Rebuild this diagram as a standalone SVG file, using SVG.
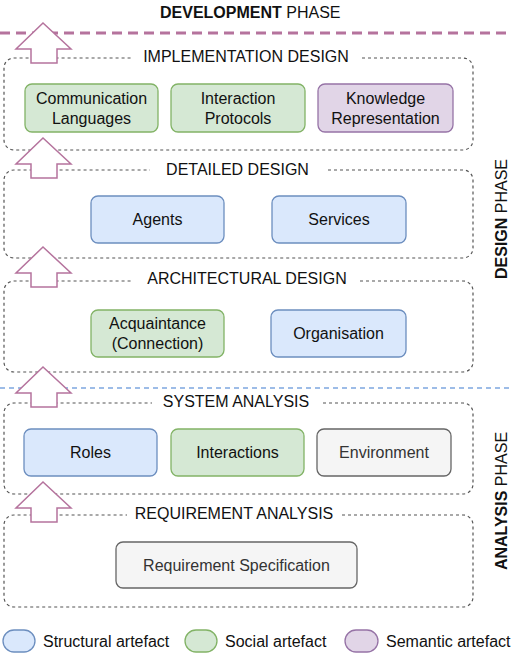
<svg xmlns="http://www.w3.org/2000/svg" width="519" height="656" viewBox="0 0 519 656">
<style>
text{font-family:"Liberation Sans",Arial,sans-serif;font-size:16px;fill:#111;}
.c{text-anchor:middle;}
.cont{fill:none;stroke:#555;stroke-width:1.2;stroke-dasharray:3 3;}
.blue{fill:#dae8fc;stroke:#6c8ebf;stroke-width:1.3;}
.green{fill:#d5e8d4;stroke:#82b366;stroke-width:1.3;}
.purple{fill:#e1d5e7;stroke:#9673a6;stroke-width:1.3;}
.gray{fill:#f5f5f5;stroke:#666;stroke-width:1.3;}
.gt{fill:#333;}
.arrow{fill:#fff;stroke:#b5739d;stroke-width:1.5;}
b,.b{font-weight:bold;}
</style>
<defs>
<path id="up" d="M43,0 L71,26 L57,26 L57,40 L31,40 L31,26 L16,26 Z"/>
</defs>

<g id="phase-lines">
<line x1="0" y1="33" x2="510" y2="33" stroke="#b5739d" stroke-width="3" stroke-dasharray="10 6"/>
<line x1="0" y1="388" x2="510" y2="388" stroke="#7ea6e0" stroke-width="1.5" stroke-dasharray="5 4"/>
</g>

<g id="phase-labels">
<text x="160" y="18"><tspan class="b">DEVELOPMENT</tspan> PHASE</text>
<text class="c" transform="translate(507,219) rotate(-90)"><tspan class="b">DESIGN</tspan> PHASE</text>
<text class="c" transform="translate(507,501) rotate(-90)"><tspan class="b">ANALYSIS</tspan> PHASE</text>
</g>

<g id="implementation-design">
<path class="cont" d="M362,58 H463 A10,10 0 0 1 473,68 V140 A10,10 0 0 1 463,150 H14 A10,10 0 0 1 4,140 V68 A10,10 0 0 1 14,58 H133"/>
<text class="c" x="246" y="62">IMPLEMENTATION DESIGN</text>
</g>
<g id="communication-languages">
<rect class="green" x="25" y="84" width="133" height="48" rx="7"/>
<text class="c" x="91.5" y="103.5">Communication</text>
<text class="c" x="91.5" y="123.5">Languages</text>
</g>
<g id="interaction-protocols">
<rect class="green" x="171" y="84" width="134" height="48" rx="7"/>
<text class="c" x="238" y="103.5">Interaction</text>
<text class="c" x="238" y="123.5">Protocols</text>
</g>
<g id="knowledge-representation">
<rect class="purple" x="318" y="84" width="135" height="48" rx="7"/>
<text class="c" x="385.5" y="103.5">Knowledge</text>
<text class="c" x="385.5" y="123.5">Representation</text>
</g>

<g id="detailed-design">
<path class="cont" d="M328,170 H463 A10,10 0 0 1 473,180 V248 A10,10 0 0 1 463,258 H14 A10,10 0 0 1 4,248 V180 A10,10 0 0 1 14,170 H150"/>
<text class="c" x="237.5" y="175">DETAILED DESIGN</text>
</g>
<g id="agents">
<rect class="blue" x="91" y="196" width="133" height="47" rx="7"/>
<text class="c" x="157.5" y="225">Agents</text>
</g>
<g id="services">
<rect class="blue" x="272" y="196" width="134" height="47" rx="7"/>
<text class="c" x="339" y="225">Services</text>
</g>

<g id="architectural-design">
<path class="cont" d="M360,281 H463 A10,10 0 0 1 473,291 V362 A10,10 0 0 1 463,372 H14 A10,10 0 0 1 4,362 V291 A10,10 0 0 1 14,281 H132"/>
<text class="c" x="247" y="284">ARCHITECTURAL DESIGN</text>
</g>
<g id="acquaintance">
<rect class="green" x="91" y="310" width="133" height="47" rx="7"/>
<text class="c" x="157.5" y="328.5">Acquaintance</text>
<text class="c" x="157.5" y="348.5">(Connection)</text>
</g>
<g id="organisation">
<rect class="blue" x="271" y="310" width="135" height="47" rx="7"/>
<text class="c" x="338.5" y="339">Organisation</text>
</g>

<g id="system-analysis">
<path class="cont" d="M323,403 H463 A10,10 0 0 1 473,413 V484 A10,10 0 0 1 463,494 H14 A10,10 0 0 1 4,484 V413 A10,10 0 0 1 14,403 H152"/>
<text class="c" x="236" y="407">SYSTEM ANALYSIS</text>
</g>
<g id="roles">
<rect class="blue" x="24" y="429" width="133" height="47" rx="7"/>
<text class="c" x="90.5" y="458">Roles</text>
</g>
<g id="interactions">
<rect class="green" x="171" y="429" width="133" height="47" rx="7"/>
<text class="c" x="237.5" y="458">Interactions</text>
</g>
<g id="environment">
<rect class="gray" x="317" y="429" width="134" height="47" rx="7"/>
<text class="c gt" x="384" y="458">Environment</text>
</g>

<g id="requirement-analysis">
<path class="cont" d="M342,515 H463 A10,10 0 0 1 473,525 V597 A10,10 0 0 1 463,607 H14 A10,10 0 0 1 4,597 V525 A10,10 0 0 1 14,515 H127"/>
<text class="c" x="234" y="519">REQUIREMENT ANALYSIS</text>
</g>
<g id="requirement-specification">
<rect class="gray" x="116" y="542" width="241" height="46" rx="7"/>
<text class="c gt" x="236.5" y="570.5">Requirement Specification</text>
</g>

<g id="connectors">
<use href="#up" class="arrow" x="0" y="23"/>
<use href="#up" class="arrow" x="0" y="138"/>
<use href="#up" class="arrow" x="0" y="247"/>
<use href="#up" class="arrow" x="0" y="367"/>
<use href="#up" class="arrow" x="0" y="482"/>
</g>

<g id="legend">
<rect class="blue" x="3" y="630" width="32" height="22" rx="11"/>
<text x="43" y="647">Structural artefact</text>
<rect class="green" x="185" y="630" width="32" height="22" rx="11"/>
<text x="225" y="647">Social artefact</text>
<rect class="purple" x="345" y="630" width="33" height="22" rx="11"/>
<text x="386" y="647">Semantic artefact</text>
</g>
</svg>
